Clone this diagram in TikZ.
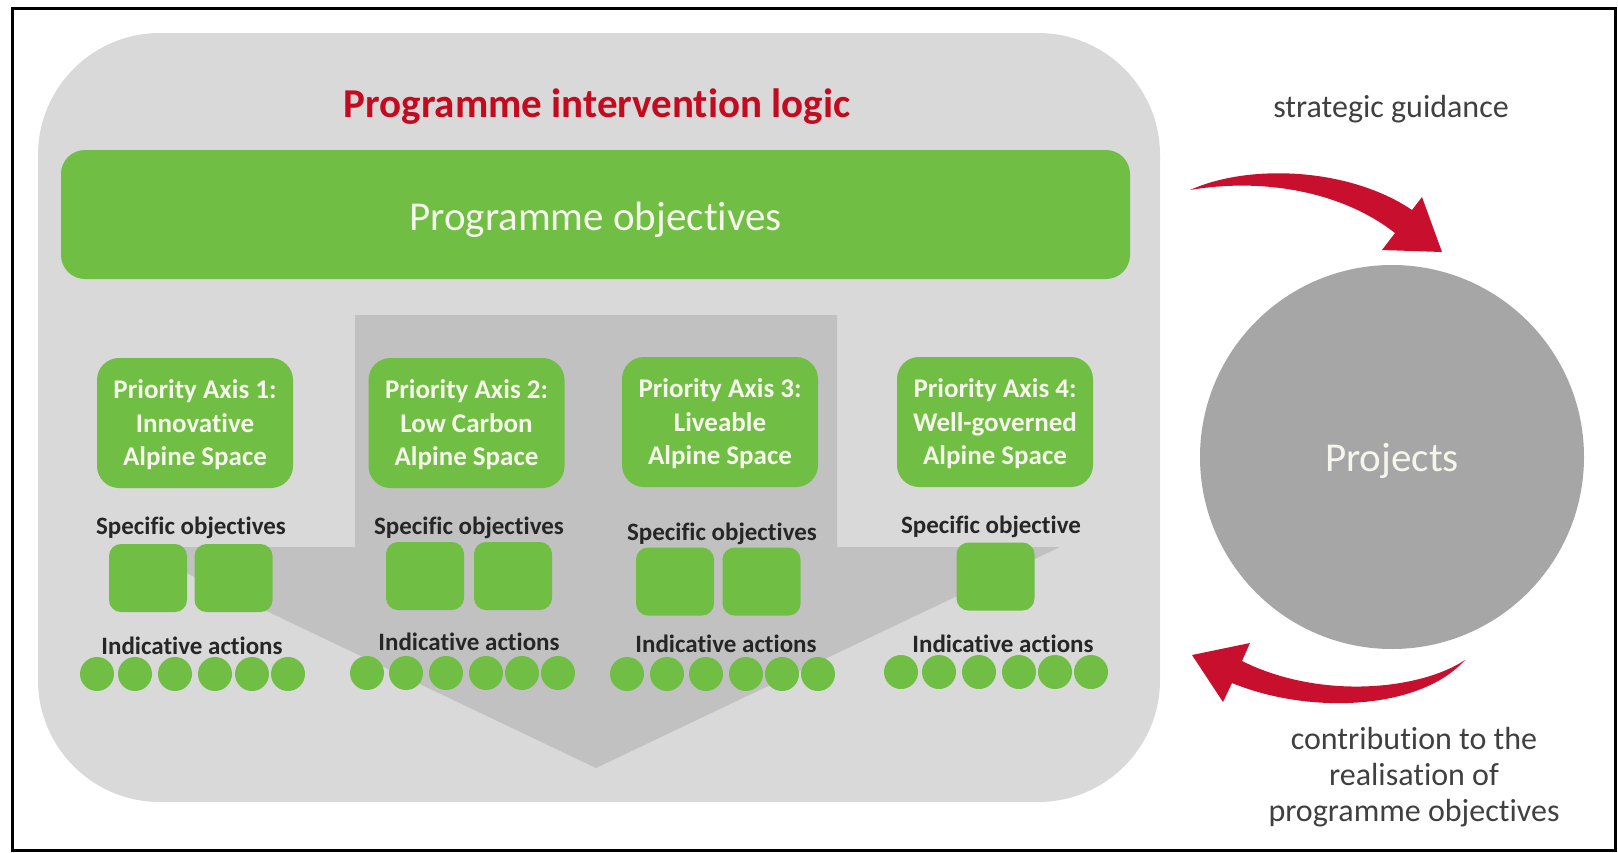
\documentclass[tikz,border=0pt]{standalone}
\usepackage{fontspec}
\setmainfont{Carlito}[Ligatures=NoCommon]
\definecolor{panelgray}{RGB}{217,217,217}
\definecolor{arrowgray}{RGB}{193,193,193}
\definecolor{pgreen}{RGB}{112,190,68}
\definecolor{titlered}{RGB}{195,10,30}
\definecolor{arrowred}{RGB}{200,16,46}
\definecolor{circgray}{RGB}{166,166,166}
\definecolor{darktext}{RGB}{38,38,38}
\definecolor{softwhite}{RGB}{246,246,236}
\definecolor{captiongray}{RGB}{64,64,64}
\tikzset{
  panelbox/.style={rectangle, fill=panelgray, rounded corners=122pt, minimum width=1122pt, minimum height=769pt, inner sep=0pt},
  barbox/.style={rectangle, fill=pgreen, rounded corners=24pt, minimum width=1069pt, minimum height=129pt, inner sep=0pt},
  bartext/.style={inner sep=0pt, text=softwhite, font=\fontsize{41}{49}\selectfont},
  axisbox/.style={rectangle, fill=pgreen, rounded corners=22pt, minimum width=196pt, minimum height=130pt, inner sep=0pt, text=softwhite, align=center, font=\fontsize{27}{33.5}\selectfont\bfseries},
  sqbox/.style={rectangle, fill=pgreen, rounded corners=12pt, minimum width=78pt, minimum height=68pt, inner sep=0pt},
  dot/.style={circle, fill=pgreen, minimum size=34pt, inner sep=0pt},
  lbl/.style={inner sep=0pt, text=darktext, font=\fontsize{25}{30}\selectfont\bfseries},
  caption/.style={inner sep=0pt, text=captiongray, align=center, font=\fontsize{32}{36}\selectfont},
  redarrow/.style={fill=arrowred},
}
\begin{document}
\begin{tikzpicture}[x=1pt,y=-1pt]
\useasboundingbox (0,0) rectangle (1618,852);
\fill[white] (0,0) rectangle (1618,852);
% panel
\node[panelbox] (panel) at (599,417.5) {};
% big down arrow
\fill[arrowgray] (355,315) -- (837,315) -- (837,547) -- (1060,547) -- (596,768) -- (132,547) -- (355,547) -- cycle;
% title and bar
\node[inner sep=0pt, text=titlered, font=\fontsize{41}{49}\selectfont\bfseries] (title) at (597,107) {Programme intervention logic};
\node[barbox] (pobj) at (595.5,214.5) {};
\node[bartext] (pobjtext) at (595.5,220) {Programme objectives};
% priority axes
\node[axisbox] (ax1) at (195,423) {};
\node[axisbox] (ax2) at (466.5,423) {};
\node[axisbox] (ax3) at (720,422) {};
\node[axisbox] (ax4) at (995,422) {};
\node[axisbox, fill=none] (ax1t) at (195,425) {Priority Axis 1:\\Innovative\\Alpine Space};
\node[axisbox, fill=none] (ax2t) at (466.5,425) {Priority Axis 2:\\Low Carbon\\Alpine Space};
\node[axisbox, fill=none] (ax3t) at (720,424) {Priority Axis 3:\\Liveable\\Alpine Space};
\node[axisbox, fill=none] (ax4t) at (995,424) {Priority Axis 4:\\Well-governed\\Alpine Space};
% specific objectives labels
\node[lbl] (so1) at (191,528) {Specific objectives};
\node[lbl] (so2) at (469,528) {Specific objectives};
\node[lbl] (so3) at (722,534) {Specific objectives};
\node[lbl] (so4) at (991,527) {Specific objective};
% squares
\node[sqbox] (s11) at (148,578) {};
\node[sqbox] (s12) at (233.5,578) {};
\node[sqbox] (s21) at (425,576) {};
\node[sqbox] (s22) at (513,576) {};
\node[sqbox] (s31) at (675,581.5) {};
\node[sqbox] (s32) at (761.5,581.5) {};
\node[sqbox] (s41) at (995.5,576.5) {};
% indicative actions labels
\node[lbl] (ia1) at (192,646) {Indicative actions};
\node[lbl] (ia2) at (469,642) {Indicative actions};
\node[lbl] (ia3) at (726,644) {Indicative actions};
\node[lbl] (ia4) at (1003,644) {Indicative actions};
% dots
\foreach \x [count=\i] in {97,135,175,215,252,288} \node[dot] (d1\i) at (\x,674) {};
\foreach \x [count=\i] in {367,406,446,486,522,558} \node[dot] (d2\i) at (\x,673) {};
\foreach \x [count=\i] in {627,667,706,746,782,818} \node[dot] (d3\i) at (\x,674) {};
\foreach \x [count=\i] in {901,939,979,1019,1055,1091} \node[dot] (d4\i) at (\x,672) {};
% projects
\node[circle, fill=circgray, minimum size=384pt, inner sep=0pt] (proj) at (1392,457) {};
\node[inner sep=0pt, text=softwhite, font=\fontsize{41}{49}\selectfont] (projtext) at (1392,461) {Projects};
% captions
\node[caption] (guide) at (1391,109) {strategic guidance};
\node[caption] (contrib) at (1414,777) {contribution to the\\realisation of\\programme objectives};
% red arrows
\fill[redarrow] (1190,190) .. controls (1250,163) and (1350,168) .. (1412,210) -- (1422,197) -- (1442,252) -- (1382,250) -- (1395,233) .. controls (1340,190) and (1260,178) .. (1190,190) -- cycle;
\fill[redarrow] (1465,660) .. controls (1420,690) and (1320,700) .. (1242,661) -- (1250,643) -- (1192,655) -- (1223,702) -- (1232,683) .. controls (1310,715) and (1420,710) .. (1465,660) -- cycle;
% frame
\draw[line width=3pt] (12,8) rectangle (1615,850);
\end{tikzpicture}
\end{document}
